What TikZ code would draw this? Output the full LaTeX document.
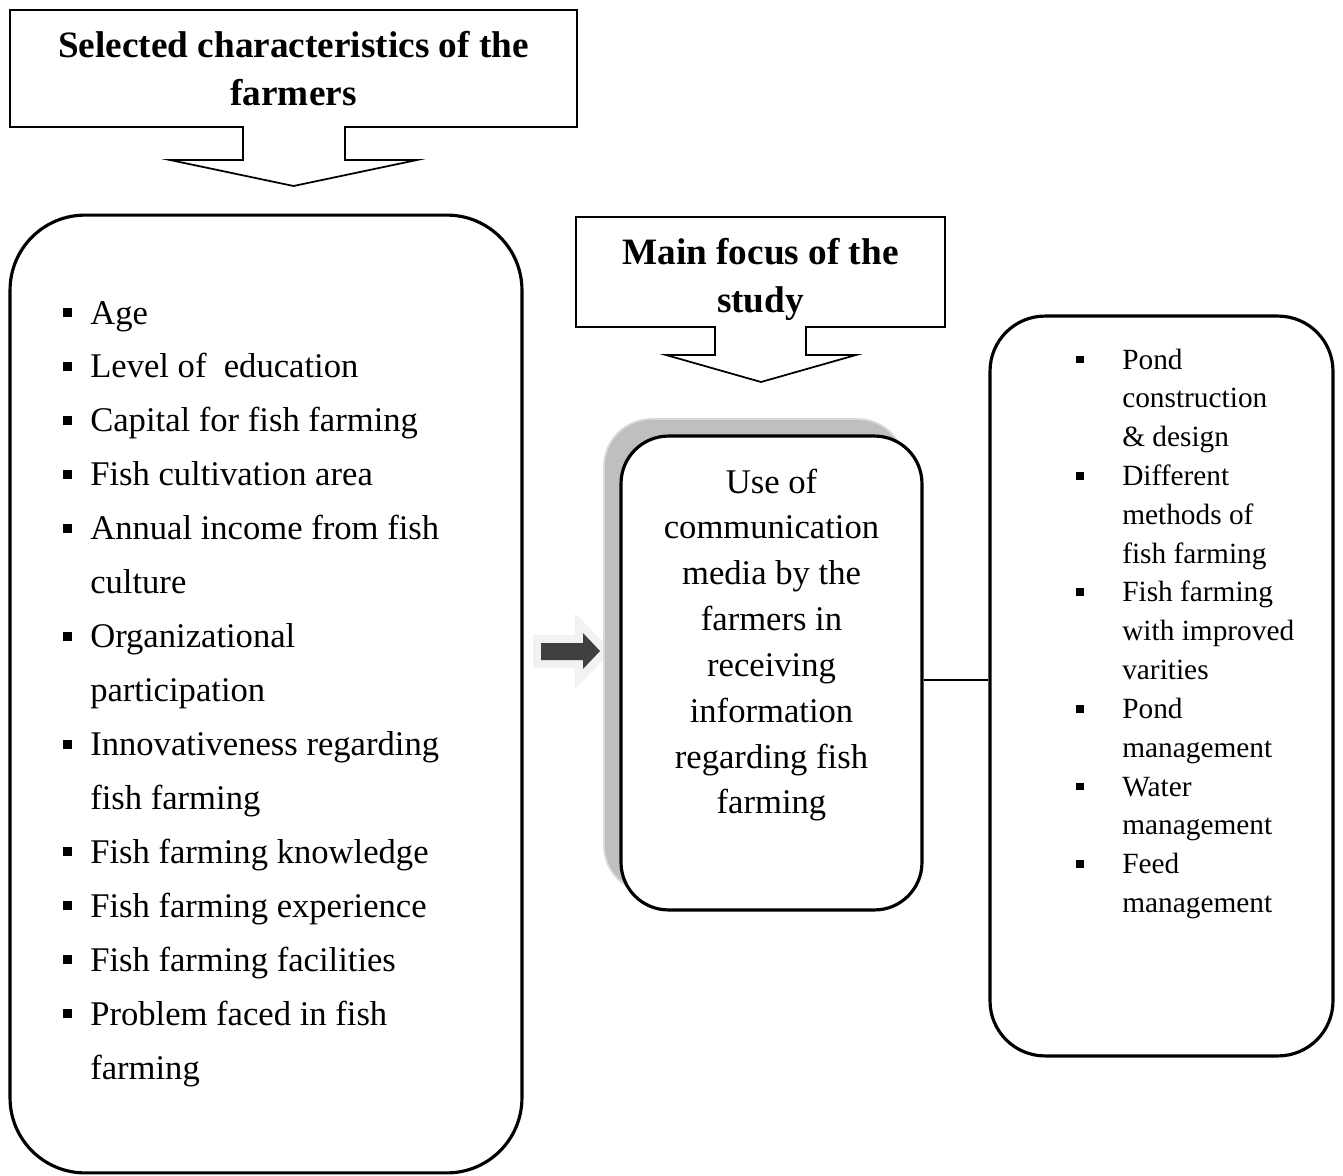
\documentclass[tikz,border=0pt]{standalone}
\usepackage{fontspec}
\setmainfont{Liberation Serif}
\usepackage{xcolor}
\usepackage{tikz}

\definecolor{shadowgray}{HTML}{BFBFBF}
\definecolor{shadowedge}{HTML}{D9D9D9}
\definecolor{glowgray}{HTML}{F2F2F2}
\definecolor{arrowdark}{HTML}{404040}

\newcommand{\sqbul}{\rule[0.2em]{0.26em}{0.26em}}

\begin{document}
\begin{tikzpicture}[x=0.02cm, y=-0.02cm,
  headtext/.style={font=\fontsize{21.2}{27.3}\selectfont\bfseries, align=center, inner sep=0pt},
  bigbox/.style={draw, line width=1.8pt, rounded corners=#1, fill=white, inner sep=0pt},
  calloutline/.style={draw, line width=1pt, line join=miter}]

% Marco del dibujo
\useasboundingbox (0,0) rectangle (1343,1176);

% Cajas de titulo con flecha
\draw[calloutline] (10,10) -- (577,10) -- (577,127) -- (345,127) -- (345,160) -- (417,160)
  -- (293.5,186) -- (170,160) -- (243,160) -- (243,127) -- (10,127) -- cycle;
\node[headtext] (chars) at (293.5,69) {Selected characteristics of the\\farmers};

\draw[calloutline] (576,217) -- (945,217) -- (945,327) -- (806,327) -- (806,355) -- (856,355)
  -- (761,382) -- (666,355) -- (715,355) -- (715,327) -- (576,327) -- cycle;
\node[headtext] (focus) at (760.5,279) {Main focus of the\\study};

% Caja izquierda
\node[bigbox=1.5cm, minimum width=10.24cm, minimum height=19.16cm] (charbox) at (266,694) {};
\node[anchor=base west, inner sep=0pt, font=\fontsize{19.7}{30.7}\selectfont] (charlist) at (63,324) {%
\begin{tabular}[t]{@{}l@{\hspace{10.2pt}}l@{}}
\sqbul & Age\\
\sqbul & Level of~ education\\
\sqbul & Capital for fish farming\\
\sqbul & Fish cultivation area\\
\sqbul & Annual income from fish\\
       & culture\\
\sqbul & Organizational\\
       & participation\\
\sqbul & Innovativeness regarding\\
       & fish farming\\
\sqbul & Fish farming knowledge\\
\sqbul & Fish farming experience\\
\sqbul & Fish farming facilities\\
\sqbul & Problem faced in fish\\
       & farming
\end{tabular}};

% Flecha pequena
\fill[glowgray] (533,635) -- (575,635) -- (575,613) -- (612,651) -- (575,689) -- (575,668)
  -- (533,668) -- cycle;
\fill[arrowdark] (541,643) -- (583,643) -- (583,633) -- (600,651) -- (583,669) -- (583,660)
  -- (541,660) -- cycle;

% Caja central con sombra
\node[draw=shadowedge, line width=1pt, fill=shadowgray, rounded corners=0.95cm,
  minimum width=6.02cm, minimum height=9.48cm, inner sep=0pt] (mediashadow) at (754.5,656) {};
\node[bigbox=0.95cm, minimum width=6.02cm, minimum height=9.48cm] (media) at (771.5,673) {};
\node[anchor=base, inner sep=0pt, font=\fontsize{19.7}{26.1}\selectfont] (mediatext) at (771.5,493) {%
\begin{tabular}[t]{@{}c@{}}
Use of\\
communication\\
media by the\\
farmers in\\
receiving\\
information\\
regarding fish\\
farming
\end{tabular}};

% Caja derecha
\node[bigbox=1.1cm, minimum width=6.86cm, minimum height=14.8cm] (aspects) at (1161.5,686) {};
\node[anchor=base west, inner sep=0pt, font=\fontsize{16.7}{22.1}\selectfont] (aspectlist) at (1076,369) {%
\begin{tabular}[t]{@{}l@{\hspace{21.8pt}}l@{}}
\sqbul & Pond\\
       & construction\\
       & \& design\\
\sqbul & Different\\
       & methods of\\
       & fish farming\\
\sqbul & Fish farming\\
       & with improved\\
       & varities\\
\sqbul & Pond\\
       & management\\
\sqbul & Water\\
       & management\\
\sqbul & Feed\\
       & management
\end{tabular}};

% Linea de union
\draw[line width=1pt] (media.east |- 0,680) -- (aspects.west |- 0,680);

\end{tikzpicture}
\end{document}
